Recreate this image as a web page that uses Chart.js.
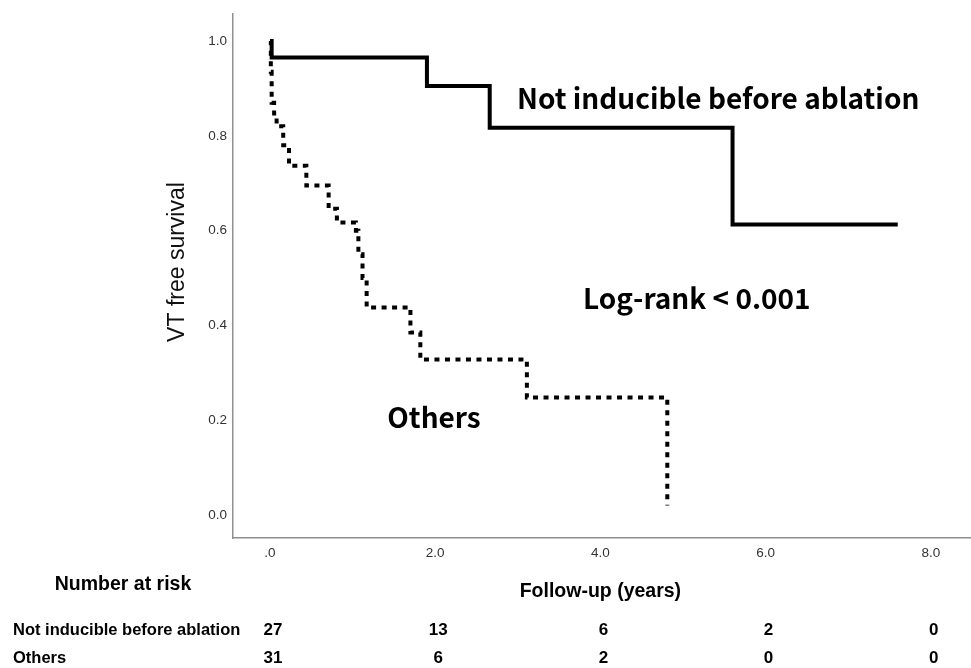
<!DOCTYPE html>
<html>
<head>
<meta charset="utf-8">
<script src="https://cdn.jsdelivr.net/npm/chart.js@4.4.1/dist/chart.umd.min.js"></script>
<style>
  html, body { margin: 0; padding: 0; background: #fff; }
  #wrap { width: 971px; height: 668px; position: relative; }
</style>
</head>
<body>
<div id="wrap"><canvas id="km"></canvas></div>
<script>
// follow-up axis
const xTicks = [0, 2, 4, 6, 8];
const xTickLabels = [".0", "2.0", "4.0", "6.0", "8.0"];
const yTicks = [0, 0.2, 0.4, 0.6, 0.8, 1.0];

// Kaplan-Meier steps (years, survival after the step)
const notInducibleTime = [0, 0.02, 1.90, 2.66, 5.60, 7.60];
const notInducibleSurv = [1.0, 0.965, 0.905, 0.817, 0.613, 0.613];

const othersTime = [0, 0.01, 0.02, 0.05, 0.08, 0.16, 0.23, 0.44, 0.71, 0.81, 1.04, 1.07, 1.12, 1.17, 1.70, 1.82, 3.11, 4.81];
const othersSurv = [1.0, 0.935, 0.87, 0.84, 0.82, 0.78, 0.737, 0.695, 0.646, 0.617, 0.60, 0.55, 0.50, 0.438, 0.385, 0.328, 0.248, 0.02];

// labels written inside the plot
const noteText = ["Not inducible before ablation", "Log-rank < 0.001", "Others"];
const noteX = [2.99, 3.79, 1.42];
const noteY = [0.878, 0.457, 0.206];

// number at risk table
const riskGroups = ["Not inducible before ablation", "Others"];
const riskNotInducible = [27, 13, 6, 2, 0];
const riskOthers = [31, 6, 2, 0, 0];

function toPoints(times, surv) {
  return times.map((t, i) => ({ x: t, y: surv[i] }));
}

const textPlugin = {
  id: "kmText",
  afterDraw(chart) {
    const ctx = chart.ctx;
    const xs = chart.scales.x;
    const ys = chart.scales.y;
    ctx.save();
    ctx.fillStyle = "#000";

    // in-plot labels
    ctx.font = 'bold 28px "Noto Sans CJK JP", "Noto Sans", sans-serif';
    ctx.textAlign = "left";
    ctx.textBaseline = "middle";
    noteText.forEach((txt, i) => {
      ctx.fillText(txt, xs.getPixelForValue(noteX[i]), ys.getPixelForValue(noteY[i]));
    });

    // y axis title
    ctx.save();
    ctx.translate(178, 262);
    ctx.rotate(-Math.PI / 2);
    ctx.textAlign = "center";
    ctx.font = '23px "Liberation Sans", Arial, sans-serif';
    ctx.fillStyle = "#111";
    ctx.fillText("VT free survival", 0, 0);
    ctx.restore();

    // x axis title and risk table
    ctx.textAlign = "center";
    ctx.font = 'bold 19.5px "Liberation Sans", Arial, sans-serif';
    ctx.fillText("Number at risk", 123, 585);
    ctx.fillText("Follow-up (years)", xs.getPixelForValue(4), 592);

    const rows = [riskNotInducible, riskOthers];
    const rowY = [630, 658];
    rows.forEach((vals, r) => {
      ctx.textAlign = "left";
      ctx.font = 'bold 16.5px "Liberation Sans", Arial, sans-serif';
      ctx.fillText(riskGroups[r], 13, rowY[r]);
      ctx.textAlign = "center";
      ctx.font = 'bold 17px "Liberation Sans", Arial, sans-serif';
      vals.forEach((v, i) => {
        ctx.fillText(String(v), xs.getPixelForValue(xTicks[i]) + 3, rowY[r]);
      });
    });
    ctx.restore();
  },
};

new Chart(document.getElementById("km").getContext("2d"), {
  type: "line",
  data: {
    datasets: [
      {
        label: "Not inducible before ablation",
        data: toPoints(notInducibleTime, notInducibleSurv),
        borderColor: "#000",
        borderWidth: 4,
        stepped: true,
        pointRadius: 0,
        borderJoinStyle: "miter",
      },
      {
        label: "Others",
        data: toPoints(othersTime, othersSurv),
        borderColor: "#000",
        borderWidth: 4,
        borderDash: [5, 5.5],
        borderCapStyle: "butt",
        stepped: true,
        pointRadius: 0,
      },
    ],
  },
  options: {
    responsive: true,
    maintainAspectRatio: false,
    animation: false,
    layout: { padding: { left: 165, top: 13, right: 0, bottom: 0 } },
    plugins: {
      legend: { display: false },
      tooltip: { enabled: false },
    },
    scales: {
      x: {
        type: "linear",
        min: -0.448,
        max: 8.487,
        grid: { display: false, drawTicks: false, tickLength: 0 },
        border: { display: true, color: "#8f8f8f", width: 1.5 },
        afterFit(scale) { scale.height = 130; },
        afterBuildTicks(scale) { scale.ticks = xTicks.map((v) => ({ value: v })); },
        ticks: {
          autoSkip: false,
          maxRotation: 0,
          padding: 7,
          color: "#333",
          font: { family: '"Liberation Sans", Arial, sans-serif', size: 13.5 },
          callback: (value) => xTickLabels[xTicks.indexOf(value)] ?? "",
        },
      },
      y: {
        type: "linear",
        min: -0.0484,
        max: 1.0568,
        grid: { display: false, drawTicks: false, tickLength: 0 },
        border: { display: true, color: "#8f8f8f", width: 1.5 },
        afterFit(scale) { scale.width = 68; },
        afterBuildTicks(scale) { scale.ticks = yTicks.map((v) => ({ value: v })); },
        ticks: {
          padding: 6,
          color: "#333",
          font: { family: '"Liberation Sans", Arial, sans-serif', size: 13.5 },
          callback: (value) => Number(value).toFixed(1),
        },
      },
    },
  },
  plugins: [textPlugin],
});
</script>
</body>
</html>
